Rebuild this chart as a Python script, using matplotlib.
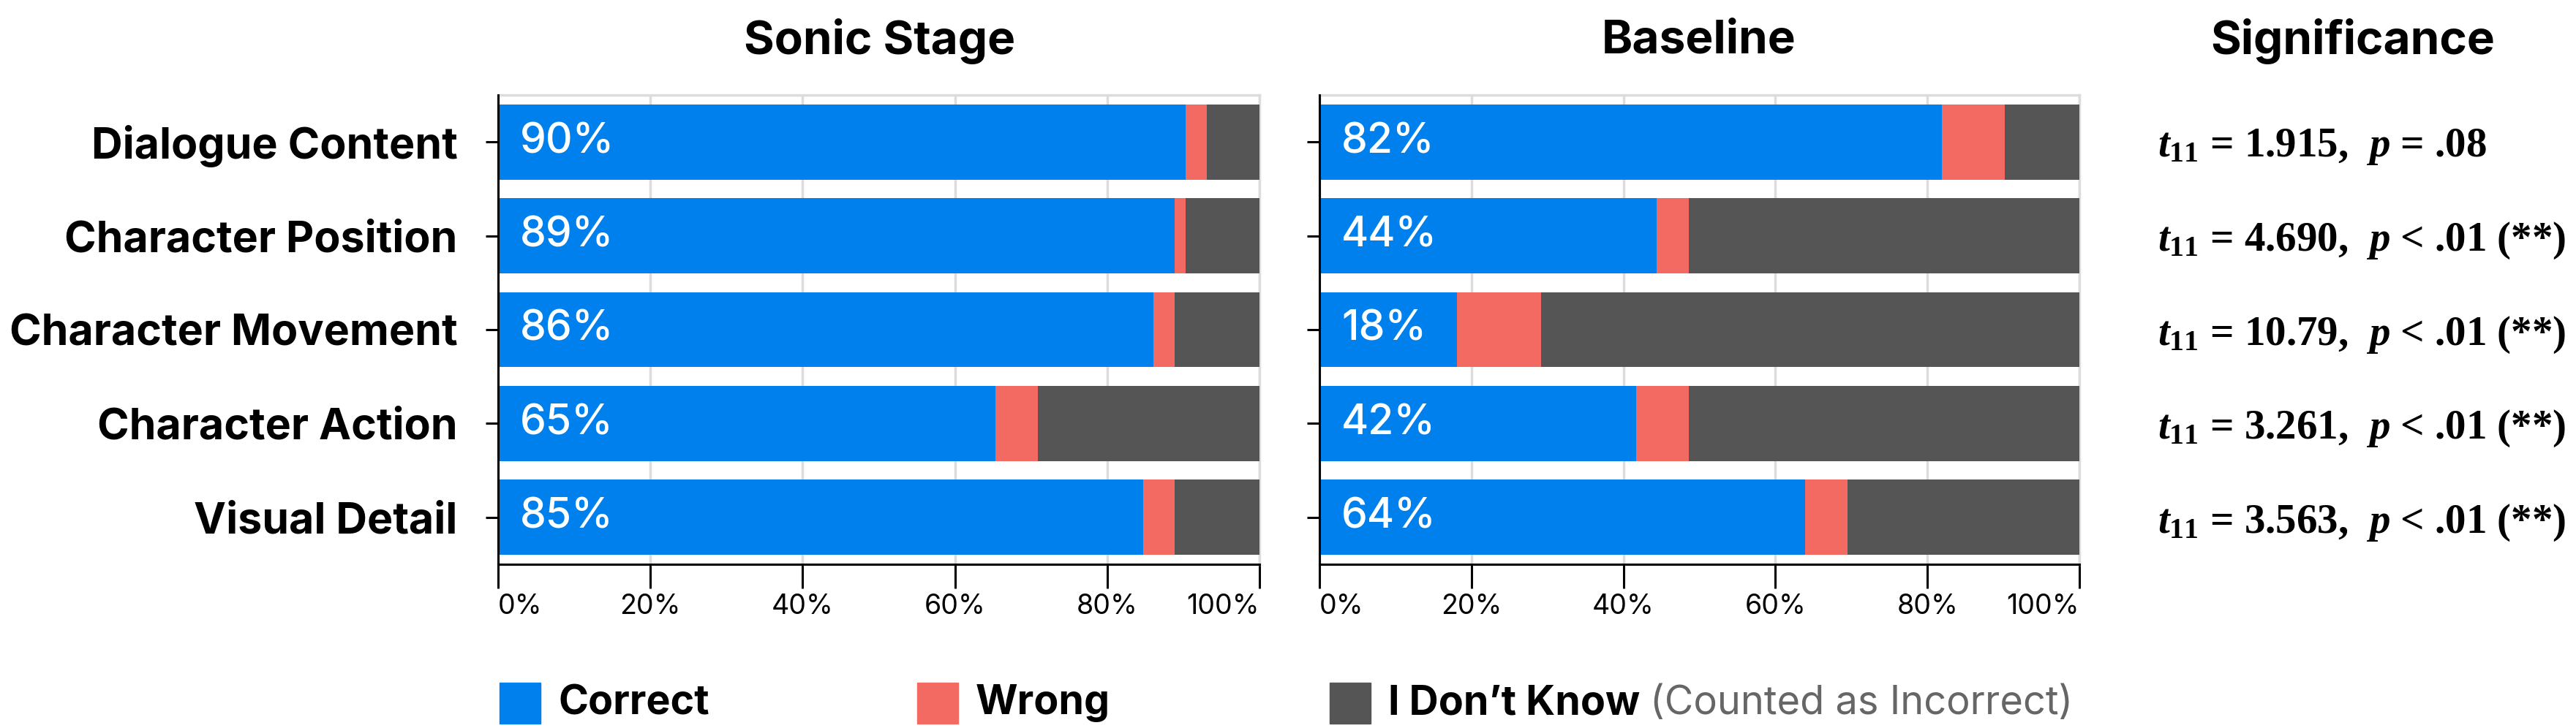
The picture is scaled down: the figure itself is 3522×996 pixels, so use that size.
import matplotlib
matplotlib.use("Agg")
import numpy as np
import matplotlib.pyplot as plt
from matplotlib.patches import Rectangle
from matplotlib.transforms import blended_transform_factory

# ---------------------------------------------------------------------------
# Data (percent of answers)
# ---------------------------------------------------------------------------
categories = ["Dialogue Content", "Character Position", "Character Movement",
              "Character Action", "Visual Detail"]

sonic_correct = [90.3, 88.9, 86.1, 65.3, 84.7]
sonic_wrong = [2.8, 1.4, 2.8, 5.6, 4.2]

base_correct = [81.9, 44.4, 18.1, 41.7, 63.9]
base_wrong = [8.3, 4.2, 11.1, 6.9, 5.6]

t_values = ["1.915", "4.690", "10.79", "3.261", "3.563"]
p_texts = ["= .08", "< .01 (**)", "< .01 (**)", "< .01 (**)", "< .01 (**)"]

x_ticks = [0, 20, 40, 60, 80, 100]
x_tick_labels = ["0%", "20%", "40%", "60%", "80%", "100%"]

BLUE = "#0080EC"
RED = "#F26A62"
GRAY = "#555555"
GRID = "#DCDCDC"

plt.rcParams["font.family"] = ["Inter", "DejaVu Sans"]
plt.rcParams["mathtext.fontset"] = "custom"
plt.rcParams["mathtext.rm"] = "Liberation Serif:bold"
plt.rcParams["mathtext.it"] = "Liberation Serif:italic:bold"
plt.rcParams["mathtext.bf"] = "Liberation Serif:bold"

W, H, DPI = 3522, 996, 100
fig = plt.figure(figsize=(W / DPI, H / DPI), dpi=DPI)

ax_left = fig.add_axes([681 / W, 1 - 772 / H, 1041 / W, 642 / H])
ax_right = fig.add_axes([1804 / W, 1 - 772 / H, 1039 / W, 642 / H])

y = np.arange(len(categories))


def draw_panel(ax, correct, wrong, show_labels):
    correct = np.array(correct)
    wrong = np.array(wrong)
    dunno = 100 - correct - wrong
    ax.barh(y, correct, height=0.8, color=BLUE, zorder=3)
    ax.barh(y, wrong, left=correct, height=0.8, color=RED, zorder=3)
    ax.barh(y, dunno, left=correct + wrong, height=0.8, color=GRAY, zorder=3)

    for yi, c in zip(y, correct):
        ax.text(2.9, yi, f"{round(c)}%", color="white", fontsize=41,
                fontweight="medium", ha="left", va="center", zorder=4)

    ax.set_xlim(0, 100)
    ax.set_ylim(len(categories) - 0.5, -0.5)
    ax.set_xticks(x_ticks)
    ax.set_xticklabels(x_tick_labels, fontsize=27)
    labels = ax.get_xticklabels()
    labels[0].set_horizontalalignment("left")
    labels[-1].set_horizontalalignment("right")
    ax.tick_params(axis="x", length=24, width=2.2, pad=5)
    ax.set_yticks(y)
    if show_labels:
        ax.set_yticklabels(categories, fontsize=42.5, fontweight="bold")
    else:
        ax.set_yticklabels([])
    ax.tick_params(axis="y", length=12, width=2.2, pad=28)

    ax.grid(axis="x", color=GRID, linewidth=2.5, zorder=0)
    ax.set_axisbelow(True)
    for side in ("top", "right"):
        ax.spines[side].set_color(GRID)
        ax.spines[side].set_linewidth(2.5)
    for side in ("left", "bottom"):
        ax.spines[side].set_color("black")
        ax.spines[side].set_linewidth(2.2)
        ax.spines[side].set_zorder(5)


draw_panel(ax_left, sonic_correct, sonic_wrong, True)
draw_panel(ax_right, base_correct, base_wrong, False)

# panel titles
fig.text(1203 / W, 1 - 56 / H, "Sonic Stage", fontsize=46, fontweight="bold",
         ha="center", va="center")
fig.text(2323 / W, 1 - 56 / H, "Baseline", fontsize=46, fontweight="bold",
         ha="center", va="center")
fig.text(3217 / W, 1 - 56 / H, "Significance", fontsize=46, fontweight="bold",
         ha="center", va="center")

# significance column
trans = blended_transform_factory(fig.transFigure, ax_right.transData)
for yi, t, p in zip(y, t_values, p_texts):
    ax_right.text(2950 / W, yi, rf"$t_{{\mathit{{11}}}}$ = {t},  $p$ {p}",
                  transform=trans, fontsize=41, fontweight="bold",
                  family="Liberation Serif", ha="left", va="center_baseline",
                  clip_on=False)

# legend drawn by hand so the boxes line up with the panels
sq = 56
legend_items = [(683, BLUE, "Correct"), (1254, RED, "Wrong"),
                (1818, GRAY, "I Don\u2019t Know")]
for x0, col, label in legend_items:
    fig.patches.append(Rectangle((x0 / W, 1 - 990 / H), sq / W, sq / H,
                                 color=col, transform=fig.transFigure))
    fig.text((x0 + sq + 24) / W, 1 - 962 / H, label, fontsize=40,
             fontweight="bold", ha="left", va="center")
fig.text(2256 / W, 1 - 962 / H, "(Counted as Incorrect)", fontsize=39,
         color="#666666", ha="left", va="center")

fig.savefig("out.png", dpi=DPI)
